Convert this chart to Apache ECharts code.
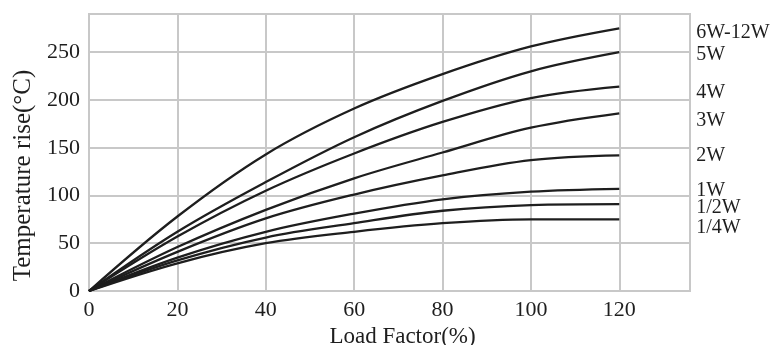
<!DOCTYPE html>
<html>
<head>
<meta charset="utf-8">
<script src="https://cdn.jsdelivr.net/npm/echarts@6/dist/echarts.min.js"></script>
<style>html,body{margin:0;padding:0;background:#fff}#c{width:782px;height:345px}</style>
</head>
<body>
<div id="c"></div>
<script>
const loadFactor = [0, 20, 40, 60, 80, 100, 120];
const seriesNames = ['6W-12W', '5W', '4W', '3W', '2W', '1W', '1/2W', '1/4W'];
const s6to12W = [0, 78, 143, 191, 227, 256, 275];
const s5W     = [0, 62, 114, 161, 199, 230, 250];
const s4W     = [0, 57, 105, 144, 177, 202, 214];
const s3W     = [0, 46, 85, 118, 145, 171, 186];
const s2W     = [0, 41, 76, 101, 121, 137, 142];
const s1W     = [0, 35, 62, 81, 96, 104, 107];
const sHalfW  = [0, 32, 56, 71, 84, 90, 91];
const sQuarterW = [0, 29, 50, 62, 71, 75, 75];
const xTicks = [0, 20, 40, 60, 80, 100, 120];
const yTicks = [0, 50, 100, 150, 200, 250];

const values = [s6to12W, s5W, s4W, s3W, s2W, s1W, sHalfW, sQuarterW];
const labelDy = [4, 3, 6, 7, 0, 2, 4, 8];
const font = '"Liberation Serif", "DejaVu Serif", serif';
const ink = '#1e1e1e';

const chart = echarts.init(document.getElementById('c'), null, {renderer: 'canvas'});
chart.setOption({
  animation: false,
  backgroundColor: '#fff',
  grid: {left: 89, right: 92, top: 14, bottom: 54, containLabel: false, outerBoundsMode: 'none',
         show: true, borderColor: '#c8c8c8', borderWidth: 2},
  xAxis: {
    type: 'value', min: 0, max: 136, interval: 20,
    name: 'Load Factor(%)', nameLocation: 'middle', nameGap: 31,
    nameTextStyle: {fontFamily: font, fontSize: 23, color: ink, padding: [0, 0, 0, 26]},
    axisLine: {show: false}, axisTick: {show: false},
    axisLabel: {fontFamily: font, fontSize: 22, color: ink, margin: 8,
      formatter: v => xTicks.indexOf(v) >= 0 ? String(v) : ''},
    splitLine: {show: true, lineStyle: {color: '#c8c8c8', width: 2}}
  },
  yAxis: {
    type: 'value', min: 0, max: 290, interval: 50,
    name: 'Temperature rise(°C)', nameLocation: 'middle', nameGap: 53, nameRotate: 90,
    nameTextStyle: {fontFamily: font, fontSize: 25, color: ink, padding: [0, 46, 0, 0]},
    axisLine: {show: false}, axisTick: {show: false},
    axisLabel: {fontFamily: font, fontSize: 22, color: ink, margin: 9,
      formatter: v => yTicks.indexOf(v) >= 0 ? String(v) : ''},
    splitLine: {show: true, lineStyle: {color: '#c8c8c8', width: 2}}
  },
  series: seriesNames.map((name, i) => ({
    name: name,
    type: 'line',
    smooth: 0.35,
    symbol: 'none',
    lineStyle: {color: ink, width: 2.3},
    data: loadFactor.map((x, j) => [x, values[i][j]]),
    endLabel: {
      show: true, formatter: name, distance: 77, offset: [0, labelDy[i]],
      fontFamily: font, fontSize: 20, color: ink, align: 'left'
    },
    z: 3
  }))
});
</script>
</body>
</html>
